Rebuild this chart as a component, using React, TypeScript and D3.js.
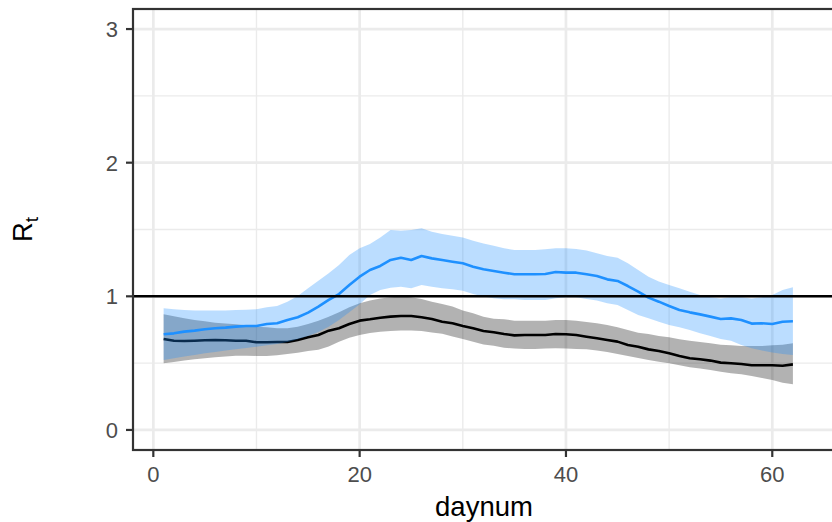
import React from "react";
import * as d3 from "d3";

const days = [
  1, 2, 3, 4, 5, 6, 7, 8, 9, 10, 11, 12, 13, 14, 15, 16, 17, 18, 19, 20, 21,
  22, 23, 24, 25, 26, 27, 28, 29, 30, 31, 32, 33, 34, 35, 36, 37, 38, 39, 40,
  41, 42, 43, 44, 45, 46, 47, 48, 49, 50, 51, 52, 53, 54, 55, 56, 57, 58, 59,
  60, 61, 62,
];

const blueMid = [
  0.716, 0.723, 0.736, 0.743, 0.753, 0.761, 0.766, 0.773, 0.778, 0.778,
  0.793, 0.798, 0.823, 0.843, 0.878, 0.923, 0.973, 1.017, 1.085, 1.147,
  1.197, 1.227, 1.272, 1.289, 1.272, 1.302, 1.284, 1.272, 1.259, 1.247,
  1.222, 1.202, 1.19, 1.177, 1.165, 1.165, 1.165, 1.167, 1.182, 1.177,
  1.177, 1.165, 1.152, 1.127, 1.115, 1.077, 1.035, 0.99, 0.96, 0.928,
  0.898, 0.88, 0.865, 0.848, 0.83, 0.835, 0.823, 0.796, 0.798, 0.793,
  0.81, 0.813,
];
const blueLo = [
  0.524, 0.536, 0.549, 0.561, 0.574, 0.584, 0.594, 0.603, 0.613, 0.623,
  0.633, 0.643, 0.658, 0.678, 0.703, 0.733, 0.773, 0.823, 0.88, 0.94,
  1.01, 1.047, 1.065, 1.072, 1.06, 1.085, 1.072, 1.06, 1.052, 1.042,
  1.017, 0.998, 0.985, 0.978, 0.978, 0.973, 0.973, 0.973, 0.985, 0.993,
  0.993, 0.98, 0.968, 0.948, 0.935, 0.898, 0.86, 0.835, 0.81, 0.786,
  0.768, 0.748, 0.723, 0.703, 0.681, 0.668, 0.636, 0.611, 0.594, 0.579,
  0.569, 0.561,
];
const blueHi = [
  0.91, 0.903, 0.898, 0.893, 0.893, 0.893, 0.893, 0.898, 0.9, 0.903,
  0.918, 0.928, 0.96, 1.002, 1.06, 1.117, 1.172, 1.234, 1.309, 1.359,
  1.392, 1.441, 1.496, 1.491, 1.496, 1.509, 1.484, 1.466, 1.454, 1.441,
  1.416, 1.396, 1.379, 1.359, 1.347, 1.347, 1.347, 1.352, 1.359, 1.359,
  1.354, 1.342, 1.322, 1.302, 1.289, 1.247, 1.197, 1.147, 1.11, 1.085,
  1.06, 1.035, 1.01, 0.993, 0.983, 0.993, 0.993, 0.983, 0.993, 1.01,
  1.047, 1.067,
];
const blackMid = [
  0.681, 0.668, 0.666, 0.668, 0.671, 0.673, 0.671, 0.668, 0.668, 0.656,
  0.656, 0.658, 0.658, 0.673, 0.693, 0.711, 0.743, 0.761, 0.793, 0.818,
  0.828, 0.84, 0.848, 0.853, 0.853, 0.843, 0.83, 0.81, 0.798, 0.778,
  0.761, 0.741, 0.731, 0.718, 0.708, 0.711, 0.711, 0.711, 0.718, 0.716,
  0.711, 0.698, 0.686, 0.673, 0.661, 0.636, 0.623, 0.603, 0.591, 0.574,
  0.554, 0.536, 0.529, 0.519, 0.504, 0.499, 0.494, 0.484, 0.484, 0.484,
  0.481, 0.491,
];
const grayHi = [
  0.865, 0.85, 0.835, 0.823, 0.813, 0.803, 0.796, 0.791, 0.783, 0.773,
  0.768, 0.761, 0.761, 0.773, 0.793, 0.818, 0.848, 0.88, 0.918, 0.948,
  0.968, 0.983, 0.993, 0.998, 0.993, 0.98, 0.96, 0.943, 0.923, 0.893,
  0.873, 0.848, 0.833, 0.828, 0.818, 0.818, 0.818, 0.818, 0.823, 0.823,
  0.818, 0.808, 0.798, 0.786, 0.768, 0.748, 0.728, 0.718, 0.703, 0.693,
  0.678, 0.668, 0.658, 0.648, 0.638, 0.633, 0.628, 0.628, 0.628, 0.633,
  0.638, 0.648,
];
const grayLo = [
  0.499, 0.509, 0.519, 0.529, 0.536, 0.544, 0.549, 0.556, 0.556, 0.554,
  0.554, 0.559, 0.568, 0.578, 0.59, 0.6, 0.625, 0.66, 0.69, 0.71,
  0.725, 0.735, 0.74, 0.745, 0.745, 0.74, 0.73, 0.72, 0.7, 0.68,
  0.66, 0.64, 0.63, 0.615, 0.61, 0.605, 0.605, 0.61, 0.612, 0.61,
  0.605, 0.603, 0.594, 0.584, 0.569, 0.554, 0.539, 0.524, 0.511, 0.499,
  0.484, 0.469, 0.459, 0.449, 0.436, 0.424, 0.416, 0.404, 0.389, 0.374,
  0.354, 0.342,
];

const xTicks = [0, 20, 40, 60];
const xMinor = [10, 30, 50];
const yTicks = [0, 1, 2, 3];
const yMinor = [0.5, 1.5, 2.5];
const refLine = 1;

const FONT = "'Liberation Sans', Arial, Helvetica, sans-serif";

export default function App() {
  const W = 832;
  const H = 522;
  const left = 133;
  const right = 835;
  const top = 9;
  const bottom = 450;

  const x = d3.scaleLinear().domain([-1.97, 66.08]).range([left, right]);
  const y = d3.scaleLinear().domain([-0.15, 3.15]).range([bottom, top]);

  const area = (lo: number[], hi: number[]) =>
    d3
      .area<number>()
      .x((d) => x(days[d]))
      .y0((d) => y(lo[d]))
      .y1((d) => y(hi[d]))(d3.range(days.length)) as string;
  const line = (v: number[]) =>
    d3
      .line<number>()
      .x((d) => x(days[d]))
      .y((d) => y(v[d]))(d3.range(days.length)) as string;

  const grid = "#EBEBEB";
  const tickCol = "#333333";
  const labCol = "#4D4D4D";

  return (
    <svg
      width={W}
      height={H}
      style={{ position: "absolute", left: 0, top: 0, background: "#fff" }}
    >
      <defs>
        <clipPath id="panel">
          <rect x={left} y={top} width={right - left} height={bottom - top} />
        </clipPath>
      </defs>
      <rect x={0} y={0} width={W} height={H} fill="#fff" />
      <g clipPath="url(#panel)">
        {yMinor.map((v) => (
          <line key={"ym" + v} x1={left} x2={right} y1={y(v)} y2={y(v)} stroke={grid} strokeWidth={1.35} />
        ))}
        {xMinor.map((v) => (
          <line key={"xm" + v} x1={x(v)} x2={x(v)} y1={top} y2={bottom} stroke={grid} strokeWidth={1.35} />
        ))}
        {yTicks.map((v) => (
          <line key={"yM" + v} x1={left} x2={right} y1={y(v)} y2={y(v)} stroke={grid} strokeWidth={2.7} />
        ))}
        {xTicks.map((v) => (
          <line key={"xM" + v} x1={x(v)} x2={x(v)} y1={top} y2={bottom} stroke={grid} strokeWidth={2.7} />
        ))}
        <path d={area(grayLo, grayHi)} fill="#000" fillOpacity={0.3} />
        <path d={line(blackMid)} fill="none" stroke="#000" strokeWidth={2.6} strokeLinejoin="round" />
        <path d={area(blueLo, blueHi)} fill="#1E90FF" fillOpacity={0.3} />
        <path d={line(blueMid)} fill="none" stroke="#1E90FF" strokeWidth={2.6} strokeLinejoin="round" />
        <line x1={left} x2={right} y1={y(refLine)} y2={y(refLine)} stroke="#000" strokeWidth={2.6} />
      </g>
      <rect
        x={left}
        y={top}
        width={right - left}
        height={bottom - top}
        fill="none"
        stroke={tickCol}
        strokeWidth={2.2}
      />
      {yTicks.map((v) => (
        <g key={"yt" + v}>
          <line x1={left - 7} x2={left} y1={y(v)} y2={y(v)} stroke={tickCol} strokeWidth={2.2} />
          <text
            x={left - 15}
            y={y(v)}
            dy="0.36em"
            textAnchor="end"
            fontFamily={FONT}
            fontSize={22}
            fill={labCol}
          >
            {v}
          </text>
        </g>
      ))}
      {xTicks.map((v) => (
        <g key={"xt" + v}>
          <line x1={x(v)} x2={x(v)} y1={bottom} y2={bottom + 7} stroke={tickCol} strokeWidth={2.2} />
          <text
            x={x(v)}
            y={481.5}
            textAnchor="middle"
            fontFamily={FONT}
            fontSize={22}
            fill={labCol}
          >
            {v}
          </text>
        </g>
      ))}
      <text
        x={(left + right) / 2}
        y={516}
        textAnchor="middle"
        fontFamily={FONT}
        fontSize={27.5}
        fill="#000"
      >
        daynum
      </text>
      <text
        transform={`translate(31.5, ${(top + bottom) / 2}) rotate(-90)`}
        textAnchor="middle"
        fontFamily={FONT}
        fontSize={27.5}
        fill="#000"
      >
        R
        <tspan fontSize={19} dy={6}>
          t
        </tspan>
      </text>
    </svg>
  );
}
